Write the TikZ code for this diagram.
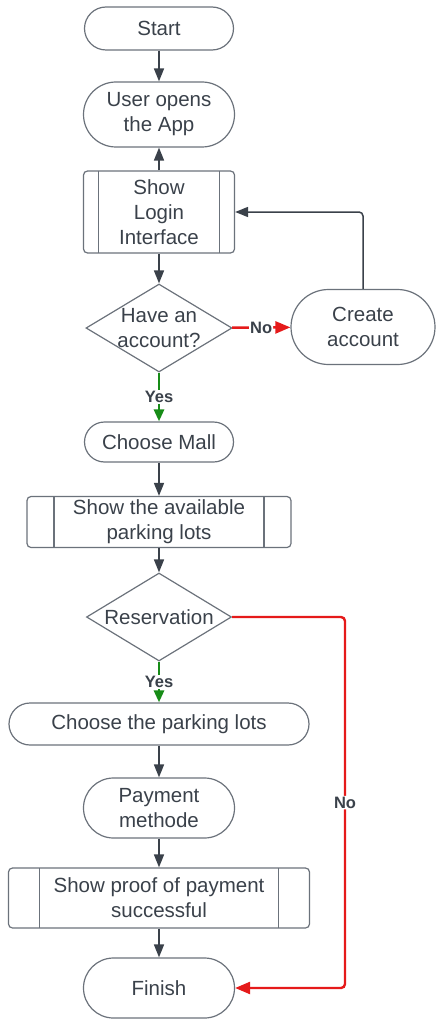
\documentclass[tikz,border=0pt]{standalone}
\usepackage{fontspec}
\setmainfont{Liberation Sans}
\usetikzlibrary{shapes.geometric,arrows.meta}
\definecolor{ink}{HTML}{3A414A}
\definecolor{rim}{HTML}{6B727B}
\definecolor{nored}{HTML}{E51A1A}
\definecolor{yesgreen}{HTML}{178C17}

\begin{document}
\begin{tikzpicture}[x=1pt,y=-1pt,
  every node/.style={text=ink,font=\fontsize{20.5}{25}\selectfont,align=center},
  term/.style 2 args={draw=rim,line width=1.2pt,rectangle,inner sep=0pt,
    minimum width=#1,minimum height=2*#2,rounded corners=#2},
  proc/.style={draw=rim,line width=1.2pt,rounded corners=4pt,inner sep=0pt,
    path picture={\draw[rim,line width=1.2pt]
      ([xshift=#1]path picture bounding box.north west) -- ([xshift=#1]path picture bounding box.south west)
      ([xshift=-#1]path picture bounding box.north east) -- ([xshift=-#1]path picture bounding box.south east);}},
  dec/.style={draw=rim,line width=1.2pt,diamond,aspect=1.66,inner sep=-6pt},
  arr/.style={ink,line width=1.5pt,-{Triangle[length=13pt,width=10pt]}},
  noarr/.style={nored,line width=2.4pt,rounded corners=4pt,-{Triangle[length=15pt,width=12pt]}},
  yesarr/.style={yesgreen,line width=2.8pt,-{Triangle[length=12pt,width=10pt]}},
  lbl/.style={fill=white,inner sep=1pt,font=\bfseries\fontsize{16.5}{16.5}\selectfont}]
\useasboundingbox (0,0) rectangle (436,1019);
\node[term={149pt}{21.5pt}] (s) at (159,28.5) {Start};
\node[term={151pt}{32.5pt}] (u) at (159,114.5) {User opens\\the App};
\node[proc=15pt,minimum width=151pt,minimum height=82pt] (l) at (159,212) {Show\\Login\\Interface};
\node[dec,minimum width=146pt,minimum height=88pt] (h) at (159,328) {Have an\\account?};
\node[term={144pt}{37.5pt}] (c) at (363,327) {Create\\account};
\node[term={149pt}{20pt}] (m) at (159,442) {Choose Mall};
\node[proc=27pt,minimum width=264pt,minimum height=51pt] (p) at (159,522) {Show the available\\parking lots};
\node[dec,minimum width=145pt,minimum height=88pt] (r) at (159,617) {Reservation};
\node[term={300pt}{21pt}] (k) at (159,724) {Choose the parking lots};
\node[term={151pt}{30pt}] (y) at (159,808) {Payment\\methode};
\node[proc=31pt,minimum width=301pt,minimum height=60pt] (q) at (159,898) {Show proof of payment\\successful};
\node[term={151pt}{30pt}] (f) at (159,988) {Finish};
\coordinate (n) at (345,617);
%
\draw[arr] (s) -- (u);
\draw[arr] (l) -- (u);
\draw[arr] (l) -- (h);
\draw[noarr] (h) -- node[lbl] {No} (c);
\draw[arr,rounded corners=4pt] (c.north) |- (l.east);
\draw[yesarr] (h) -- node[lbl] {Yes} (m);
\draw[arr] (m) -- (p);
\draw[arr] (p) -- (r);
\draw[yesarr] (r) -- node[lbl] {Yes} (k);
\draw[arr] (k) -- (y);
\draw[arr] (y) -- (q);
\draw[arr] (q) -- (f);
\draw[noarr] (r.east) -- (n) -- node[lbl] {No} (n |- f) -- (f.east);
\end{tikzpicture}
\end{document}
